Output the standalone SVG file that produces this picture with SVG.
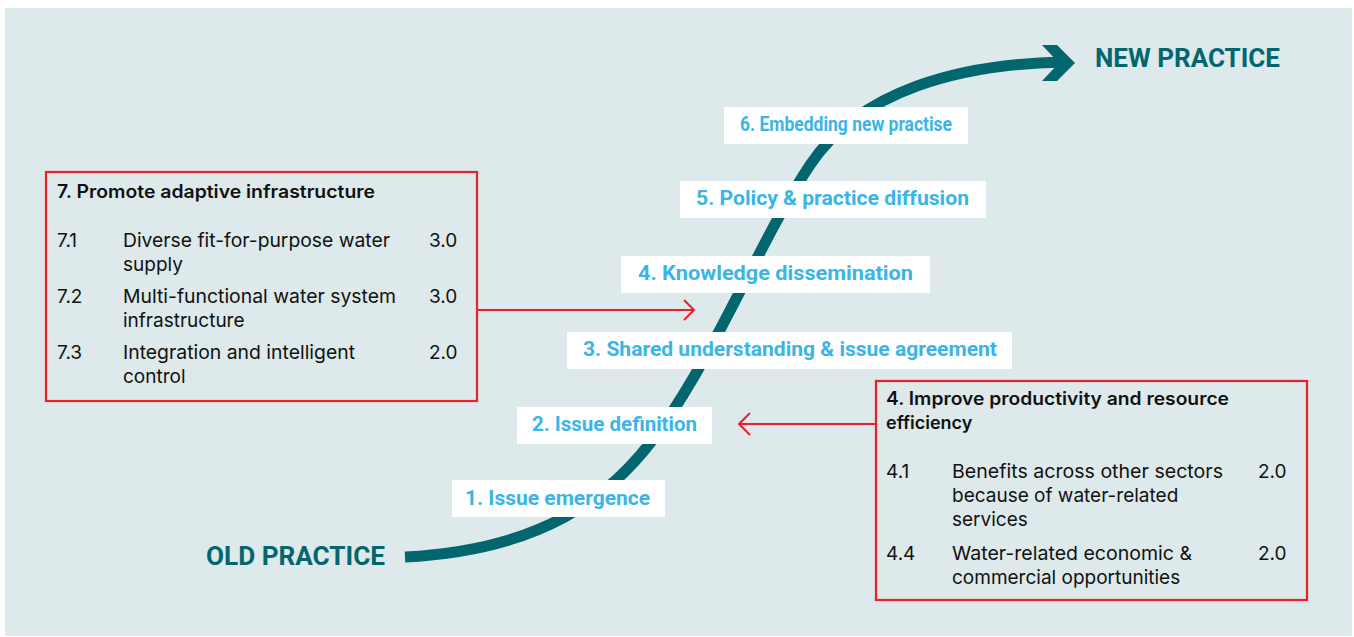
<svg xmlns="http://www.w3.org/2000/svg" width="1354" height="637" viewBox="0 0 1354 637">
<style>
.bg{fill:#dde9ea}
.stage rect{fill:#ffffff}
.stage text{font-family:Roboto,"Liberation Sans",sans-serif;font-weight:700;font-size:21px;fill:#3bb4e6}
.big{font-family:Roboto,"Liberation Sans",sans-serif;font-weight:700;font-size:26px;fill:#02666f}
.panel{fill:none;stroke:#ec1f2a;stroke-width:2.2}
.t{font-family:Inter,"Liberation Sans",sans-serif;font-weight:600;font-size:18px;fill:#111111}
.b{font-family:Inter,"Liberation Sans",sans-serif;font-weight:400;font-size:19px;fill:#111111}
.red{fill:none;stroke:#ec1f2a;stroke-width:2}
.curve{fill:none;stroke:#02666f;stroke-width:11}
</style>
<rect class="bg" x="5" y="8" width="1347" height="628"/>

<g id="connectors">
  <path class="curve" d="M405,557 C540,550 610,500 660,430 C720,345 760,240 810,165 C860,90 960,64 1063,62"/>
  <polygon fill="#02666f" points="1042,45 1057,45 1075,63 1057,81 1042,81 1059,63"/>
  <path class="red" d="M477,310 H694 M684,300 L694,310 L684,320"/>
  <path class="red" d="M876,424 H739 M750,413 L739,424 L750,435"/>
</g>

<g id="old-practice"><text class="big" x="206" y="565" textLength="179" lengthAdjust="spacingAndGlyphs">OLD PRACTICE</text></g>
<g id="new-practice"><text class="big" x="1095" y="67" textLength="185" lengthAdjust="spacingAndGlyphs">NEW PRACTICE</text></g>

<g id="stage1" class="stage"><rect x="452" y="480" width="213" height="37"/><text x="465" y="505" textLength="185" lengthAdjust="spacingAndGlyphs">1. Issue emergence</text></g>
<g id="stage2" class="stage"><rect x="517" y="407" width="195" height="37"/><text x="532" y="431" textLength="165" lengthAdjust="spacingAndGlyphs">2. Issue definition</text></g>
<g id="stage3" class="stage"><rect x="567" y="332" width="445" height="37"/><text x="583" y="356" textLength="414" lengthAdjust="spacingAndGlyphs">3. Shared understanding &amp; issue agreement</text></g>
<g id="stage4" class="stage"><rect x="621" y="256" width="309" height="37"/><text x="638" y="280" textLength="275" lengthAdjust="spacingAndGlyphs">4. Knowledge dissemination</text></g>
<g id="stage5" class="stage"><rect x="680" y="181" width="306" height="37"/><text x="696" y="205" textLength="273" lengthAdjust="spacingAndGlyphs">5. Policy &amp; practice diffusion</text></g>
<g id="stage6" class="stage"><rect x="724" y="107" width="244" height="37"/><text x="740" y="131" textLength="212" lengthAdjust="spacingAndGlyphs">6. Embedding new practise</text></g>

<g id="box7">
  <rect class="panel" x="46" y="172" width="431" height="229"/>
  <text class="t" x="57" y="198" textLength="318" lengthAdjust="spacingAndGlyphs">7. Promote adaptive infrastructure</text>
  <text class="b" x="57" y="247">7.1</text>
  <text class="b" x="123" y="247" textLength="267" lengthAdjust="spacingAndGlyphs">Diverse fit-for-purpose water</text>
  <text class="b" x="123" y="271">supply</text>
  <text class="b" x="429" y="247">3.0</text>
  <text class="b" x="57" y="303">7.2</text>
  <text class="b" x="123" y="303" textLength="273" lengthAdjust="spacingAndGlyphs">Multi-functional water system</text>
  <text class="b" x="123" y="327">infrastructure</text>
  <text class="b" x="429" y="303">3.0</text>
  <text class="b" x="57" y="359">7.3</text>
  <text class="b" x="123" y="359" textLength="232" lengthAdjust="spacingAndGlyphs">Integration and intelligent</text>
  <text class="b" x="123" y="383">control</text>
  <text class="b" x="429" y="359">2.0</text>
</g>

<g id="box4">
  <rect class="panel" x="876" y="381" width="431" height="219"/>
  <text class="t" x="886" y="405" textLength="343" lengthAdjust="spacingAndGlyphs">4. Improve productivity and resource</text>
  <text class="t" x="886" y="429">efficiency</text>
  <text class="b" x="886" y="478">4.1</text>
  <text class="b" x="952" y="478" textLength="271" lengthAdjust="spacingAndGlyphs">Benefits across other sectors</text>
  <text class="b" x="952" y="502">because of water-related</text>
  <text class="b" x="952" y="526">services</text>
  <text class="b" x="1258" y="478">2.0</text>
  <text class="b" x="886" y="560">4.4</text>
  <text class="b" x="952" y="560" textLength="240" lengthAdjust="spacingAndGlyphs">Water-related economic &amp;</text>
  <text class="b" x="952" y="584">commercial opportunities</text>
  <text class="b" x="1258" y="560">2.0</text>
</g>
</svg>
